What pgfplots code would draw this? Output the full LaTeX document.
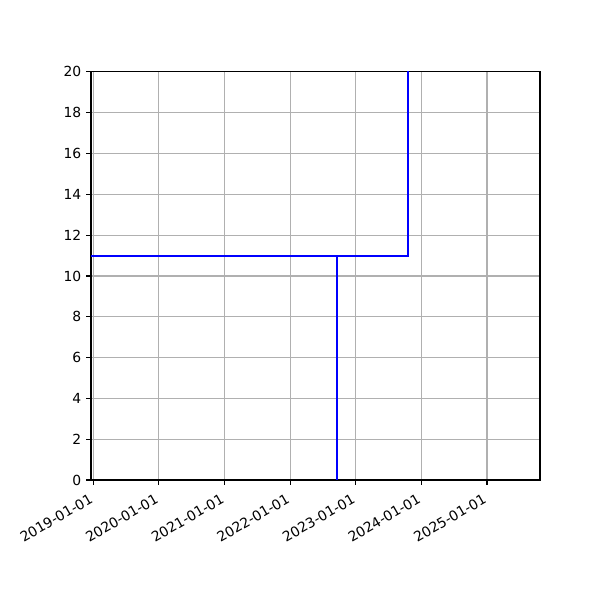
\documentclass[border=0pt]{standalone}
\usepackage{fontspec}
\setmainfont{DejaVu Sans}
\usepackage{pgfplots}
\pgfplotsset{compat=1.18}
\begin{document}
\begin{tikzpicture}[x=1pt,y=1pt]
\useasboundingbox (0,0) rectangle (432,432);
\begin{axis}[
  at={(65.52pt,86.4pt)}, anchor=south west,
  scale only axis, width=323.3pt, height=293.8pt,
  xmin=-13, xmax=2487, ymin=0, ymax=20,
  xtick={0,365,731,1096,1461,1826,2192},
  xticklabels={2019-01-01,2020-01-01,2021-01-01,2022-01-01,2023-01-01,2024-01-01,2025-01-01},
  ytick={0,2,...,20},
  xtick pos=left, ytick pos=left,
  tick align=outside, major tick length=3.5pt,
  every tick/.style={black, line width=0.8pt},
  axis line style={line width=0.8pt},
  grid=major, grid style={color=black!31, line width=0.8pt},
  x tick label style={rotate=30, anchor=north east, font=\fontsize{10}{12}\selectfont, xshift=-2.5pt},
  y tick label style={font=\fontsize{10}{12}\selectfont},
  /pgf/number format/assume math mode=true,
]
\addplot[blue, line width=1.5pt] coordinates {(-100,11) (1754,11) (1754,25)};
\addplot[blue, line width=1.5pt] coordinates {(1358,-5) (1358,11)};
\end{axis}
\end{tikzpicture}
\end{document}
